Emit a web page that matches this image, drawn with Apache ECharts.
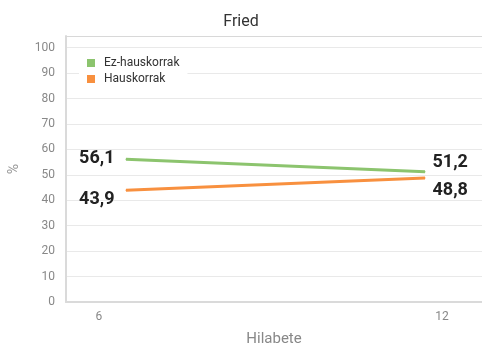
<!DOCTYPE html>
<html>
<head>
<meta charset="utf-8">
<script src="https://cdn.jsdelivr.net/npm/echarts@6/dist/echarts.min.js"></script>
<style>
  html, body { margin: 0; padding: 0; background: #fff; }
  #chart { width: 482px; height: 349px; }
</style>
</head>
<body>
<div id="chart"></div>
<script>
// Months of follow-up and share (%) per group
const months = ['6', '12'];
const ezHauskorrak = [56.1, 51.2];
const hauskorrak = [43.9, 48.8];
const yTicks = [0, 10, 20, 30, 40, 50, 60, 70, 80, 90, 100];

const FONT = '"Roboto", "Liberation Sans", sans-serif';
const fmt = v => String(v).replace('.', ',');
const GREEN = '#8cc46e';
const ORANGE = '#f8903f';

// per-point label placement: first point label to the left, last to the right
function points(values, offsets) {
  return values.map((v, i) => ({
    value: v,
    label: {
      position: i === 0 ? 'left' : 'right',
      distance: i === 0 ? 11 : 7,
      offset: [0, offsets[i]]
    }
  }));
}

const valueLabel = {
  show: true,
  formatter: p => fmt(p.value),
  fontFamily: FONT,
  fontSize: 18,
  fontWeight: 'bold',
  color: '#222'
};

const chart = echarts.init(document.getElementById('chart'), null, { renderer: 'canvas' });

const yMax = 104.6;

chart.setOption({
  animation: false,
  backgroundColor: '#fff',
  title: {
    text: 'Fried',
    left: 'center',
    top: 9,
    textStyle: { fontFamily: FONT, fontSize: 16, fontWeight: 'normal', color: '#333' }
  },
  legend: {
    orient: 'vertical',
    left: 79,
    top: 50,
    padding: [6, 8, 6, 8],
    backgroundColor: '#fff',
    itemWidth: 8,
    itemHeight: 8,
    itemGap: 2,
    icon: 'rect',
    textStyle: { fontFamily: FONT, fontSize: 12, lineHeight: 14, color: '#333', padding: [0, 0, 0, 4] },
    data: ['Ez-hauskorrak', 'Hauskorrak']
  },
  grid: [
    { left: 66, right: 0, top: 36, bottom: 47, outerBoundsMode: 'none', containLabel: false },
    { left: 126, right: 57, top: 36, bottom: 47, outerBoundsMode: 'none', containLabel: false }
  ],
  xAxis: [
    {
      gridIndex: 0,
      type: 'value',
      min: 5.423,
      max: 12.70,
      splitLine: { show: false },
      axisLine: { show: true, lineStyle: { color: '#dadada', width: 2 } },
      axisTick: { show: false },
      axisLabel: {
        customValues: months.map(Number),
        margin: 9,
        fontFamily: FONT, fontSize: 12, color: '#888'
      },
      name: 'Hilabete',
      nameLocation: 'middle',
      nameGap: 30,
      nameTextStyle: { fontFamily: FONT, fontSize: 15, color: '#888' }
    },
    {
      gridIndex: 0,
      type: 'value',
      position: 'top',
      min: 0, max: 1,
      axisLine: { show: true, lineStyle: { color: '#d8d8d8', width: 1 } },
      axisTick: { show: false },
      axisLabel: { show: false },
      splitLine: { show: false }
    },
    {
      gridIndex: 1,
      type: 'category',
      data: months,
      boundaryGap: false,
      show: false
    }
  ],
  yAxis: [
    {
      gridIndex: 0,
      type: 'value',
      min: 0,
      max: yMax,
      interval: 10,
      axisLine: { show: true, lineStyle: { color: '#dadada', width: 2 } },
      axisTick: { show: false },
      axisLabel: {
        customValues: yTicks,
        margin: 11,
        fontFamily: FONT, fontSize: 12, color: '#888'
      },
      splitLine: { show: true, lineStyle: { color: '#e9e9e9', width: 1 } },
      name: '%',
      nameLocation: 'middle',
      nameGap: 45,
      nameTextStyle: { fontFamily: FONT, fontSize: 14, color: '#999' }
    },
    {
      gridIndex: 1,
      type: 'value',
      min: 0,
      max: yMax,
      show: false,
      splitLine: { show: false }
    }
  ],
  series: [
    {
      name: 'Ez-hauskorrak',
      type: 'line',
      xAxisIndex: 2,
      yAxisIndex: 1,
      data: points(ezHauskorrak, [-1, -9]),
      color: GREEN,
      lineStyle: { width: 3, color: GREEN },
      symbol: 'rect',
      symbolSize: 1,
      showSymbol: true,
      label: valueLabel
    },
    {
      name: 'Hauskorrak',
      type: 'line',
      xAxisIndex: 2,
      yAxisIndex: 1,
      data: points(hauskorrak, [9, 13]),
      color: ORANGE,
      lineStyle: { width: 3, color: ORANGE },
      symbol: 'rect',
      symbolSize: 1,
      showSymbol: true,
      label: valueLabel
    }
  ]
});
</script>
</body>
</html>
